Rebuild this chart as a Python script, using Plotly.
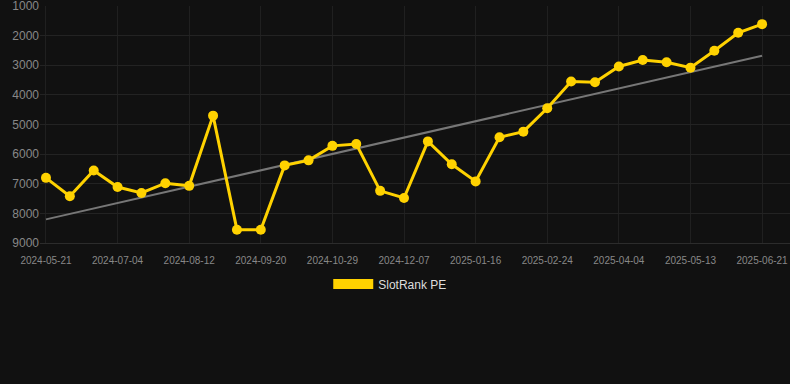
import numpy as np
import plotly.graph_objects as go

dates = [
    "2024-05-21", "2024-06-05", "2024-06-19", "2024-07-04", "2024-07-17", "2024-07-30",
    "2024-08-12", "2024-08-25", "2024-09-07", "2024-09-20", "2024-10-03", "2024-10-16",
    "2024-10-29", "2024-11-11", "2024-11-24", "2024-12-07", "2024-12-20", "2025-01-03",
    "2025-01-16", "2025-01-29", "2025-02-11", "2025-02-24", "2025-03-09", "2025-03-22",
    "2025-04-04", "2025-04-17", "2025-04-30", "2025-05-13", "2025-05-26", "2025-06-08",
    "2025-06-21",
]
rank = [
    6800, 7420, 6550, 7110, 7310, 6980, 7070, 4700, 8550, 8550,
    6380, 6210, 5720, 5660, 7240, 7480, 5570, 6340, 6920, 5430,
    5240, 4450, 3550, 3570, 3040, 2820, 2900, 3080, 2510, 1900, 1610,
]
tick_labels = dates[::3]
y_ticks = [1000, 2000, 3000, 4000, 5000, 6000, 7000, 8000, 9000]
series_name = "SlotRank PE"

YELLOW = "#FFD200"
idx = np.arange(len(rank))
slope, intercept = np.polyfit(idx, rank, 1)
trend = slope * idx + intercept

fig = go.Figure()
fig.add_trace(go.Scatter(
    x=dates, y=trend, mode="lines",
    line=dict(color="#777777", width=2),
    showlegend=False, hoverinfo="skip",
))
fig.add_trace(go.Scatter(
    x=dates, y=rank, mode="lines+markers",
    line=dict(color=YELLOW, width=3),
    marker=dict(color=YELLOW, size=10),
    showlegend=False, name=series_name,
))
fig.add_trace(go.Scatter(
    x=[None], y=[None], mode="lines",
    line=dict(color=YELLOW, width=11),
    name=series_name, showlegend=True,
))

fig.update_layout(
    width=790, height=384,
    paper_bgcolor="#111111", plot_bgcolor="#111111",
    margin=dict(l=40, r=0, t=6, b=141),
    font=dict(family="Liberation Sans, Arial, sans-serif", color="#888888"),
    legend=dict(
        orientation="h", x=0.467, xanchor="center", y=-0.173, yanchor="middle",
        font=dict(size=12, color="#dddddd"), itemwidth=40,
        bgcolor="rgba(0,0,0,0)",
    ),
    xaxis=dict(
        type="category", categoryorder="array", categoryarray=dates,
        range=[-0.25, 31.17],
        tickmode="array", tickvals=tick_labels, ticktext=tick_labels,
        tickfont=dict(size=10, color="#888888"), ticklabelstandoff=8,
        showgrid=True, gridcolor="#202020", gridwidth=1,
        showline=True, linecolor="#2c2c2c", linewidth=1,
        zeroline=False, ticks="", ticklabeloverflow="allow",
    ),
    yaxis=dict(
        range=[9000, 998], tickvals=y_ticks,
        tickfont=dict(size=12, color="#888888"),
        showgrid=True, gridcolor="#232323", gridwidth=1,
        zeroline=False, showline=False, ticks="", ticklabeloverflow="allow",
    ),
)
fig.write_html(
    "out.html",
    config={"displayModeBar": False},
    post_script="document.body.style.margin='0';document.body.style.background='#111111';",
)
